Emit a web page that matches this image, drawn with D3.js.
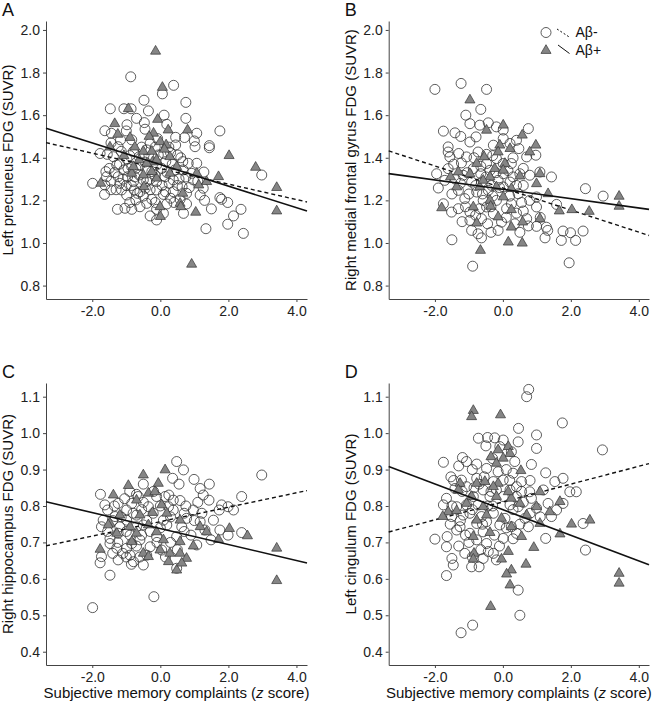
<!DOCTYPE html>
<html><head><meta charset="utf-8">
<script src="https://cdn.jsdelivr.net/npm/d3@7"></script>
<style>
html,body{margin:0;padding:0;background:#fff;}
svg{display:block;font-family:"Liberation Sans",Arial,sans-serif;}
</style></head>
<body><svg id="chart" width="654" height="708"></svg>
<script>
// ---------- DATA ----------
const xTicks = [-2, 0, 2, 4];
const yTicksTop = [0.8, 1.0, 1.2, 1.4, 1.6, 1.8, 2.0];
const yTicksBottom = [0.4, 0.5, 0.6, 0.7, 0.8, 0.9, 1.0, 1.1];
const panelLetters = ["A", "B", "C", "D"];
const yTitles = ["Left precuneus FDG (SUVR)", "Right medial frontal gyrus FDG (SUVR)",
                 "Right hippocampus FDG (SUVR)", "Left cingulum FDG (SUVR)"];
const legendLabels = ["A\u03b2-", "A\u03b2+"];

// Aβ- (circles) and Aβ+ (triangles): [z score, SUVR]
const negA = [[-0.87,1.78],[0.39,1.74],[0.06,1.70],[-0.48,1.67],[0.75,1.66],[-1.47,1.63],[-1.07,1.63],[-0.86,1.63],[-0.35,1.62],[0.11,1.60],[0.75,1.585],[-0.70,1.585],[-0.47,1.565],[-0.98,1.555],[0.19,1.557],[-1.63,1.527],[-1.0,1.526],[-0.45,1.534],[1.75,1.526],[1.07,1.515],[0.45,1.496],[0.71,1.495],[-1.44,1.515],[-1.17,1.484],[1.0,1.479],[-0.08,1.49],[1.44,1.457],[1.44,1.447],[1.02,1.452],[0.45,1.46],[-1.24,1.452],[-1.77,1.42],[-1.56,1.416],[-0.79,1.43],[-0.40,1.437],[0.30,1.424],[0.51,1.413],[-0.98,1.393],[-0.62,1.405],[0.66,1.382],[0.82,1.374],[1.07,1.374],[-0.11,1.366],[0.16,1.382],[-1.28,1.366],[-1.5,1.35],[-1.6,1.335],[-1.07,1.343],[-0.72,1.35],[-0.39,1.343],[0.43,1.343],[0.67,1.343],[0.92,1.327],[1.28,1.333],[2.98,1.319],[-1.58,1.311],[-1.24,1.311],[-0.96,1.311],[-0.62,1.319],[-0.16,1.319],[0.14,1.311],[0.38,1.296],[0.97,1.296],[-1.99,1.28],[-1.63,1.272],[-1.19,1.28],[-0.79,1.288],[-0.40,1.288],[-0.11,1.288],[0.26,1.28],[0.64,1.264],[1.26,1.257],[-1.14,1.249],[-0.77,1.249],[-0.44,1.257],[-0.11,1.249],[0.38,1.241],[-1.64,1.228],[-0.99,1.225],[-0.67,1.233],[0.09,1.228],[0.77,1.233],[1.17,1.225],[1.75,1.213],[1.80,1.205],[0.58,1.205],[-0.25,1.205],[-0.72,1.202],[1.98,1.19],[-0.40,1.186],[0.19,1.183],[0.77,1.183],[-1.26,1.158],[-1.04,1.163],[-0.84,1.158],[-0.60,1.17],[-0.11,1.158],[1.50,1.16],[0.68,1.139],[0.09,1.139],[2.37,1.158],[-0.30,1.127],[2.15,1.127],[-0.11,1.108],[1.98,1.088],[1.34,1.067],[2.44,1.045],[-1.38,1.405],[-0.84,1.484],[-0.30,1.468],[-0.06,1.413],[-0.60,1.366],[-0.84,1.358],[-0.25,1.335],[0.04,1.35],[-0.50,1.296],[-1.35,1.33],[-0.2,1.40],[0.25,1.45],[-1.0,1.27],[-0.5,1.22],[0.3,1.21],[-1.3,1.25],[0.55,1.30],
  [-1.45,1.47],[-1.15,1.43],[-0.9,1.41],[-0.55,1.45],[-0.15,1.45],[0.1,1.42],[0.35,1.37],[0.6,1.40],[-1.2,1.37],[-0.95,1.35],[-0.45,1.38],[0.2,1.33],[0.75,1.31],[1.1,1.29],[-1.45,1.29],[-1.1,1.30],[-0.75,1.31],[-0.3,1.30],[0.05,1.27],[0.5,1.27],[-0.85,1.27],[-0.3,1.25],[0.15,1.24],[0.85,1.26],[-1.45,1.25],[-0.6,1.24],[0.4,1.19],[-0.9,1.19],[-0.15,1.19],[1.3,1.20]];
const posA = [[-0.14,1.90],[0.06,1.73],[-0.94,1.63],[-1.34,1.56],[-0.08,1.58],[0.80,1.53],[0.23,1.53],[-0.2,1.515],[-1.25,1.51],[-0.89,1.495],[-0.33,1.50],[0,1.475],[0.17,1.46],[-1.48,1.45],[-0.75,1.45],[-0.5,1.43],[-0.25,1.43],[0.12,1.44],[-1.07,1.41],[2.02,1.41],[0.28,1.405],[-0.62,1.39],[-0.23,1.38],[2.80,1.355],[1.71,1.311],[3.42,1.26],[3.42,1.15],[1.04,1.144],[0.92,0.90],[-0.01,1.17],[0.0,1.124],[0.58,1.186],[0.66,1.233],[-1.75,1.28],[1.13,1.272],[1.36,1.288],[1.07,1.327],[0.28,1.327],[-0.11,1.304],[-0.5,1.319],[-0.84,1.327],[-0.79,1.358],[-0.40,1.374],[-0.11,1.39],[0.48,1.358],[-0.25,1.335],[-0.48,1.264],[0.6,1.17]];

const negB = [[-2.0,1.721],[-1.23,1.749],[-0.48,1.721],[-0.65,1.627],[-1.09,1.60],[-1.75,1.525],[-1.41,1.517],[-1.24,1.50],[-0.97,1.56],[-0.68,1.553],[-0.43,1.564],[-0.19,1.545],[0.01,1.53],[0.75,1.537],[-0.79,1.498],[-0.97,1.474],[0.40,1.482],[0.01,1.49],[-1.61,1.451],[-1.61,1.427],[-0.28,1.459],[0.21,1.467],[0.47,1.443],[0.97,1.412],[-1.56,1.404],[-0.73,1.427],[-0.48,1.416],[-1.07,1.404],[0.70,1.404],[-1.22,1.376],[-0.19,1.396],[-1.61,1.349],[0.25,1.373],[0.01,1.373],[1.43,1.31],[-1.95,1.325],[-1.17,1.318],[-0.65,1.325],[-0.38,1.341],[0.50,1.325],[0.79,1.318],[1.09,1.333],[-1.71,1.294],[-0.92,1.286],[-0.14,1.294],[0.21,1.286],[-1.90,1.258],[-1.31,1.247],[-0.77,1.239],[-0.43,1.247],[0.01,1.263],[0.45,1.231],[2.43,1.255],[2.95,1.22],[-1.12,1.208],[-0.58,1.20],[-0.19,1.20],[0.79,1.20],[0.99,1.216],[-1.75,1.184],[1.58,1.181],[-1.31,1.161],[-0.97,1.145],[-0.68,1.161],[0.11,1.161],[0.99,1.169],[-1.51,1.145],[-0.28,1.137],[-0.63,1.114],[0.70,1.114],[-0.97,1.106],[-0.04,1.098],[0.35,1.09],[1.28,1.074],[1.32,1.059],[0.99,1.078],[1.77,1.056],[1.99,1.048],[2.36,1.056],[-0.14,1.059],[-0.92,1.059],[-0.73,1.043],[1.24,1.024],[1.72,1.012],[2.14,1.012],[-1.5,1.015],[-0.63,1.024],[-0.89,0.891],[1.95,0.907],[-0.48,1.373],[-0.87,1.349],[-0.63,1.286],[-0.33,1.27],[0.25,1.184],[-0.48,1.169],[0.01,1.325],[-1.0,1.23],[-0.3,1.22],[0.4,1.27],[-1.4,1.30],[-0.2,1.33],[0.6,1.15],
  [-1.3,1.42],[-0.85,1.40],[-0.3,1.41],[0.3,1.40],[-1.45,1.37],[-0.65,1.36],[0.15,1.34],[0.6,1.35],[-1.05,1.33],[-0.5,1.31],[0.3,1.31],[-1.25,1.28],[-0.8,1.27],[-0.1,1.26],[0.6,1.27],[-1.5,1.23],[-0.6,1.23],[0.2,1.22],[0.55,1.19],[-1.1,1.17],[-0.35,1.17],[0.4,1.14],[-0.8,1.13],[0.1,1.12],[-0.45,1.09],[0.75,1.08],[-1.2,1.10],[0.5,1.05],[-0.35,1.05],[1.1,1.12]];
const posB = [[-0.97,1.671],[-0.48,1.529],[0.01,1.553],[0.57,1.506],[0.97,1.459],[-0.09,1.459],[0.21,1.443],[0.79,1.427],[-0.14,1.427],[-0.55,1.404],[-0.77,1.373],[0.06,1.373],[-0.24,1.349],[1.09,1.325],[0.50,1.314],[0.01,1.341],[-0.97,1.325],[-1.54,1.31],[-0.38,1.31],[0.99,1.278],[-0.19,1.263],[-1.36,1.263],[-0.68,1.263],[0.25,1.255],[1.33,1.231],[-0.38,1.20],[0.01,1.216],[-1.80,1.165],[-0.87,1.169],[-0.36,1.172],[0.25,1.156],[1.66,1.15],[2.03,1.156],[2.54,1.148],[3.42,1.219],[3.42,1.172],[-0.14,1.122],[0.58,1.098],[1.09,1.114],[0.25,1.074],[-0.77,1.093],[0.16,1.004],[0.57,0.999],[-0.66,0.965],[-1.31,1.333],[-0.58,1.294]];

const negC = [[0.48,0.922],[0.68,0.899],[2.98,0.885],[0.36,0.876],[0.99,0.873],[1.44,0.86],[-0.50,0.86],[1.17,0.848],[-1.76,0.832],[-0.70,0.832],[0.14,0.826],[2.39,0.826],[1.26,0.83],[-1.24,0.807],[-1.63,0.803],[1.43,0.816],[0.58,0.815],[1.80,0.803],[1.99,0.798],[2.15,0.789],[1.73,0.789],[-1.55,0.789],[-0.99,0.789],[0.38,0.789],[0.97,0.789],[1.22,0.78],[-1.68,0.761],[-1.33,0.771],[-0.70,0.775],[0.77,0.766],[1.17,0.757],[1.56,0.761],[-1.73,0.743],[-0.50,0.748],[0.19,0.748],[0.63,0.743],[1.31,0.734],[1.75,0.734],[1.99,0.72],[2.39,0.727],[1.49,0.707],[-1.48,0.711],[-0.89,0.72],[-0.11,0.716],[0.48,0.716],[-1.48,0.697],[-0.99,0.684],[-0.30,0.688],[1.07,0.693],[0.04,0.679],[-1.73,0.661],[-1.24,0.652],[-0.89,0.665],[-0.79,0.647],[-0.50,0.638],[-1.77,0.644],[0.48,0.629],[-1.48,0.61],[-0.19,0.551],[-1.99,0.521],[-0.99,0.761],[-0.70,0.743],[-0.35,0.798],[-0.11,0.826],[-0.21,0.78],[0.38,0.816],[0.24,0.798],[-1.19,0.743],[-0.84,0.697],[-0.6,0.707],[-1.28,0.684],[-1.24,0.725],[-0.40,0.665],[-0.65,0.826],[-0.84,0.807],[0.09,0.761],[-1.4,0.76],[-0.3,0.73],[0.3,0.70],[-1.0,0.66],[0.7,0.78],[-0.55,0.79],
  [-1.35,0.80],[-1.05,0.82],[-0.5,0.81],[0.0,0.80],[0.25,0.83],[0.75,0.80],[-1.15,0.77],[-0.8,0.78],[-0.4,0.76],[0.3,0.77],[1.0,0.76],[-1.55,0.73],[-1.0,0.73],[-0.55,0.72],[0.0,0.74],[0.7,0.73],[-1.25,0.70],[-0.7,0.69],[-0.1,0.70],[0.5,0.68],[-1.1,0.67],[-0.6,0.66],[0.15,0.66],[-0.85,0.64],[-1.4,0.67],[0.9,0.72],[-0.2,0.84],[0.55,0.86],[-0.9,0.84],[1.1,0.81]];
const posC = [[0.14,0.899],[-0.50,0.885],[-0.06,0.862],[-0.94,0.856],[-1.38,0.83],[-0.35,0.835],[-0.16,0.839],[-0.70,0.816],[0.04,0.803],[-1.19,0.775],[-1.48,0.752],[-0.60,0.775],[-0.23,0.782],[0.19,0.78],[0.58,0.761],[-0.89,0.743],[-0.35,0.748],[-0.70,0.725],[-1.28,0.725],[-0.11,0.729],[1.17,0.743],[1.36,0.729],[2.03,0.738],[2.56,0.718],[1.71,0.708],[-1.77,0.681],[-0.84,0.702],[0.09,0.707],[0.58,0.702],[0.97,0.69],[-0.50,0.67],[-0.35,0.661],[-0.01,0.679],[0.24,0.647],[0.58,0.67],[0.77,0.656],[0.48,0.624],[3.42,0.684],[3.42,0.595],[0.28,0.67],[0.63,0.643],[-1.53,0.748]];

const negD = [[0.76,1.12],[0.70,1.10],[1.75,1.028],[0.46,1.013],[0.99,0.995],[2.93,0.954],[-0.72,0.986],[-0.45,0.988],[-0.24,0.987],[0.01,0.981],[0.45,0.976],[0.99,0.958],[-0.50,0.965],[-0.09,0.963],[0.25,0.949],[-1.19,0.933],[-1.07,0.922],[-0.77,0.915],[-1.75,0.92],[0.84,0.914],[0.35,0.922],[1.26,0.891],[-0.48,0.903],[-0.14,0.894],[-1.53,0.88],[-1.22,0.871],[-0.77,0.876],[-0.28,0.867],[0.01,0.871],[1.53,0.867],[1.77,0.876],[0.55,0.867],[0.40,0.853],[-1.41,0.848],[-1.07,0.853],[0.79,0.839],[1.97,0.839],[2.16,0.839],[1.19,0.844],[1.77,0.807],[-1.66,0.821],[-0.38,0.826],[0.01,0.826],[0.40,0.826],[0.84,0.821],[1.33,0.807],[-1.75,0.803],[-1.36,0.798],[-1.07,0.803],[-0.73,0.803],[0.21,0.803],[0.45,0.798],[0.99,0.794],[1.58,0.789],[1.43,0.771],[2.36,0.752],[-1.17,0.775],[-1.51,0.771],[-0.63,0.771],[-0.28,0.78],[0.06,0.766],[0.65,0.766],[-0.77,0.752],[-1.26,0.743],[-0.09,0.748],[0.75,0.743],[-1.36,0.734],[-0.97,0.725],[-0.58,0.729],[0.40,0.725],[-2.0,0.709],[-1.64,0.716],[0.01,0.711],[1.26,0.711],[-0.77,0.707],[-0.48,0.697],[-1.66,0.688],[-1.12,0.67],[-0.43,0.675],[-0.28,0.67],[-0.58,0.656],[-0.19,0.652],[-1.5,0.656],[-1.46,0.638],[-0.92,0.633],[-0.70,0.633],[2.43,0.679],[-1.66,0.609],[0.45,0.569],[0.50,0.50],[-0.89,0.473],[-1.23,0.452],[-0.87,0.826],[-0.58,0.844],[-0.19,0.844],[0.21,0.844],[-0.97,0.78],[-0.48,0.757],[0.25,0.743],[-1.0,0.70],[-0.3,0.80],[0.6,0.81],[-0.7,0.86],[0.1,0.90],
  [-1.3,0.91],[-0.9,0.90],[-0.3,0.93],[0.3,0.89],[-1.45,0.87],[-0.55,0.88],[0.2,0.87],[0.8,0.87],[-1.2,0.84],[-0.85,0.85],[-0.35,0.84],[0.55,0.84],[-1.5,0.80],[-0.9,0.79],[-0.45,0.80],[0.3,0.79],[0.8,0.78],[-1.25,0.76],[-0.6,0.75],[0.1,0.74],[0.5,0.75],[-1.1,0.72],[-0.25,0.72],[0.3,0.71],[-1.3,0.69],[-0.65,0.68],[-0.1,0.69],[-0.9,0.66],[-1.55,0.75],[1.1,0.77]];
const posD = [[-0.87,1.062],[-0.92,1.045],[-0.07,1.05],[-0.14,0.954],[0.16,0.963],[0.21,0.944],[-0.35,0.935],[0.01,0.931],[-0.19,0.917],[0.53,0.897],[-0.77,0.862],[-0.53,0.867],[-0.14,0.862],[-1.26,0.862],[-1.31,0.844],[1.09,0.839],[-0.92,0.826],[-0.19,0.826],[0.25,0.821],[0.50,0.807],[1.68,0.812],[0.99,0.798],[-1.07,0.807],[-0.58,0.798],[-1.61,0.784],[-1.36,0.787],[-0.48,0.775],[-0.04,0.766],[1.38,0.784],[0.70,0.775],[1.09,0.752],[-1.77,0.771],[-0.77,0.761],[0.25,0.743],[2.02,0.75],[2.56,0.761],[1.68,0.723],[0.55,0.716],[-0.38,0.727],[-0.87,0.716],[0.91,0.686],[0.16,0.675],[-0.85,0.67],[-0.87,0.654],[-0.04,0.654],[0.68,0.64],[0.25,0.624],[0.11,0.613],[0.21,0.583],[-0.36,0.524],[3.42,0.615],[3.42,0.588],[-0.28,0.853],[0.16,0.839]];

// regression fits: [intercept, slope]
const fitNeg = [[1.349,-0.0363],[1.258,-0.0518],[0.757,0.0198],[0.811,0.0245]];
const fitPos = [[1.368,-0.0506],[1.252,-0.0219],[0.738,-0.0219],[0.790,-0.0352]];

// ---------- LAYOUT ----------
const svg = d3.select("#chart");
const cols = [{x0:46, x1:307, dom:[-3.36,4.31]}, {x0:388.7, x1:649, dom:[-3.36,4.30]}];
const rows = [{y0:299, y1:21, dom:[0.737,2.042], ticks:yTicksTop},
              {y0:665, y1:383, dom:[0.3635,1.1376], ticks:yTicksBottom}];
const negData = [negA, negB, negC, negD];
const posData = [posA, posB, posC, posD];
const fmt = d => d.toFixed(1);
const tri = d3.symbol().type(d3.symbolTriangle).size(44);

panelLetters.forEach((letter, i) => {
  const c = cols[i % 2], r = rows[Math.floor(i / 2)];
  const x = d3.scaleLinear().domain(c.dom).range([c.x0, c.x1]);
  const y = d3.scaleLinear().domain(r.dom).range([r.y0, r.y1]);
  const g = svg.append("g");

  // axes
  const ya = g.append("g").attr("transform", `translate(${c.x0},0)`)
    .call(d3.axisLeft(y).tickValues(r.ticks).tickFormat(fmt).tickSize(3).tickPadding(3).tickSizeOuter(0));
  const xa = g.append("g").attr("transform", `translate(0,${r.y0})`)
    .call(d3.axisBottom(x).tickValues(xTicks).tickFormat(fmt).tickSize(3).tickPadding(4).tickSizeOuter(0));
  [ya, xa].forEach(a => {
    a.select(".domain").attr("stroke", "#444").attr("stroke-width", 1);
    a.selectAll(".tick line").attr("stroke", "#444");
    a.selectAll(".tick text").attr("font-size", 14).attr("fill", "#222")
      .attr("font-family", '"Liberation Sans",Arial,sans-serif');
  });

  const lineOf = f => [[c.dom[0], f[0] + f[1]*c.dom[0]], [c.dom[1], f[0] + f[1]*c.dom[1]]];
  const ln = d3.line().x(d => x(d[0])).y(d => y(d[1]));

  // circles (Aβ-)
  g.append("g").selectAll("circle").data(negData[i]).join("circle")
    .attr("cx", d => x(d[0])).attr("cy", d => y(d[1])).attr("r", 5)
    .attr("fill", "none").attr("stroke", "#333").attr("stroke-width", 0.8);

  g.append("path").attr("d", ln(lineOf(fitNeg[i]))).attr("fill", "none")
    .attr("stroke", "#111").attr("stroke-width", 1.4).attr("stroke-dasharray", "4,3");

  // triangles (Aβ+)
  g.append("g").selectAll("path").data(posData[i]).join("path")
    .attr("d", tri).attr("transform", d => `translate(${x(d[0])},${y(d[1])})`)
    .attr("fill", "#858585").attr("stroke", "#333").attr("stroke-width", 0.7);

  g.append("path").attr("d", ln(lineOf(fitPos[i]))).attr("fill", "none")
    .attr("stroke", "#111").attr("stroke-width", 1.6);

  // panel letter
  g.append("text").attr("x", c.x0 - 44).attr("y", r.y1 - 5).text(letter)
    .attr("font-size", 18).attr("fill", "#111");

  // y title
  g.append("text").attr("transform", `translate(${c.x0 - 33},${(r.y0 + r.y1)/2}) rotate(-90)`)
    .attr("text-anchor", "middle").attr("font-size", 15).attr("fill", "#111").text(yTitles[i]);

  // x title (bottom row)
  if (i >= 2) {
    const t = g.append("text").attr("x", (c.x0 + c.x1)/2).attr("y", r.y0 + 33)
      .attr("text-anchor", "middle").attr("font-size", 15).attr("fill", "#111");
    t.append("tspan").text("Subjective memory complaints (");
    t.append("tspan").attr("font-style", "italic").text("z");
    t.append("tspan").text(" score)");
  }

  // legend (panel B)
  if (i === 1) {
    const lg = g.append("g");
    lg.append("circle").attr("cx", 546).attr("cy", 32.5).attr("r", 5)
      .attr("fill", "none").attr("stroke", "#333").attr("stroke-width", 0.8);
    lg.append("line").attr("x1", 557).attr("y1", 29).attr("x2", 570).attr("y2", 37.5)
      .attr("stroke", "#111").attr("stroke-width", 1).attr("stroke-dasharray", "2,2");
    lg.append("text").attr("x", 575.5).attr("y", 37).attr("font-size", 14).attr("fill", "#111").text(legendLabels[0]);
    lg.append("path").attr("d", tri).attr("transform", "translate(546,50.5)")
      .attr("fill", "#858585").attr("stroke", "#333").attr("stroke-width", 0.7);
    lg.append("line").attr("x1", 558).attr("y1", 45).attr("x2", 569.5).attr("y2", 53.5)
      .attr("stroke", "#111").attr("stroke-width", 1);
    lg.append("text").attr("x", 575.5).attr("y", 55).attr("font-size", 14).attr("fill", "#111").text(legendLabels[1]);
  }
});
</script></body></html>
